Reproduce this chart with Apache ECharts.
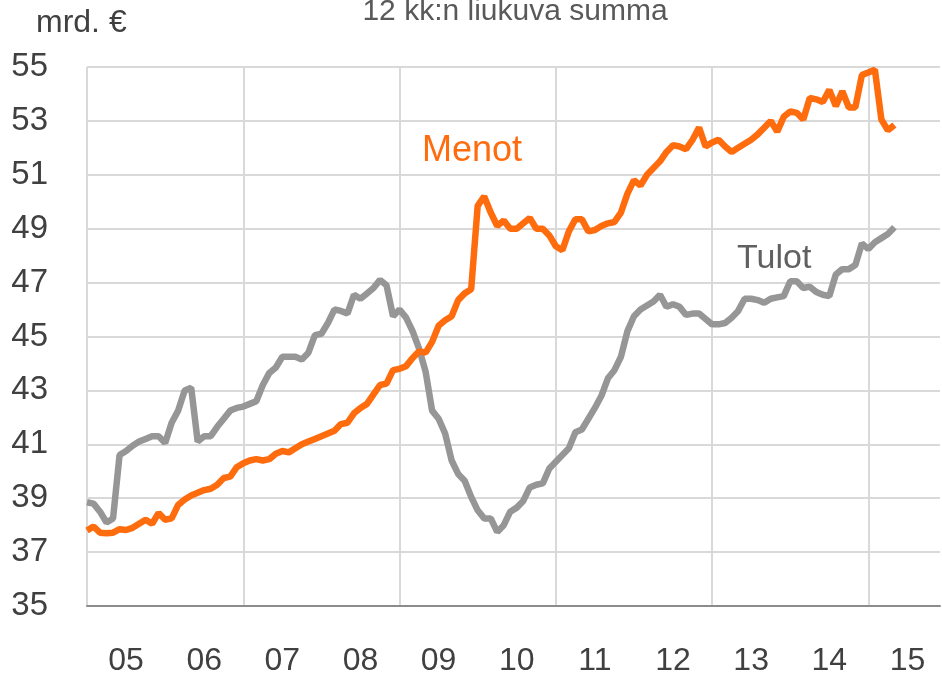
<!DOCTYPE html>
<html>
<head>
<meta charset="utf-8">
<script src="https://cdn.jsdelivr.net/npm/echarts@6/dist/echarts.min.js"></script>
<style>
  html, body { margin: 0; padding: 0; background: #fff; }
  #chart { width: 942px; height: 677px; }
</style>
</head>
<body>
<div id="chart"></div>
<script>
// vuodet, kuukausittain 2005-01 ... 2015-12
const years = ['05', '06', '07', '08', '09', '10', '11', '12', '13', '14', '15']

// Menot, 12 kk liukuva summa (mrd. €), 2005-01 ... 2015-05
const menot = [
  37.8, 37.95, 37.72, 37.7, 37.72, 37.85, 37.82, 37.9, 38.05, 38.2, 38.05, 38.45,
  38.2, 38.25, 38.75, 38.95, 39.1, 39.2, 39.3, 39.35, 39.5, 39.75, 39.8, 40.15,
  40.3, 40.4, 40.45, 40.4, 40.45, 40.65, 40.75, 40.7, 40.85, 41.0, 41.1, 41.2,
  41.3, 41.4, 41.5, 41.75, 41.8, 42.15, 42.35, 42.5, 42.85, 43.2, 43.25, 43.75,
  43.8, 43.9, 44.2, 44.45, 44.4, 44.8, 45.4, 45.6, 45.75, 46.35, 46.6, 46.75,
  49.85, 50.2, 49.6, 49.1, 49.3, 49.0, 49.0, 49.2, 49.4, 49.0, 49.0, 48.75,
  48.35, 48.2, 48.9, 49.35, 49.35, 48.9, 48.95, 49.1, 49.2, 49.25, 49.6, 50.3,
  50.8, 50.6, 51.0, 51.25, 51.5, 51.85, 52.1, 52.05, 51.95, 52.3, 52.75, 52.05,
  52.2, 52.3, 52.05, 51.85, 52.0, 52.15, 52.3, 52.5, 52.75, 53.0, 52.6, 53.15,
  53.35, 53.3, 53.05, 53.85, 53.8, 53.7, 54.15, 53.55, 54.1, 53.5, 53.5, 54.7,
  54.8, 54.9, 53.05, 52.65, 52.85
]

// Tulot
const tulot = [
  38.85, 38.8, 38.5, 38.1, 38.25, 40.6, 40.75, 40.95, 41.1, 41.2, 41.3, 41.3,
  41.05, 41.8, 42.25, 43.0, 43.1, 41.1, 41.3, 41.3, 41.65, 41.95, 42.25, 42.35,
  42.4, 42.5, 42.6, 43.2, 43.65, 43.85, 44.25, 44.25, 44.25, 44.15, 44.4, 45.05,
  45.1, 45.5, 46.0, 45.95, 45.85, 46.55, 46.4, 46.6, 46.8, 47.1, 46.9, 45.75,
  46.0, 45.7, 45.2, 44.55, 43.7, 42.25, 41.95, 41.4, 40.4, 39.9, 39.65, 39.05,
  38.55, 38.25, 38.25, 37.75, 38.0, 38.5, 38.65, 38.9, 39.4, 39.5, 39.55, 40.1,
  40.35, 40.6, 40.85, 41.45, 41.55, 41.95, 42.35, 42.8, 43.45, 43.75, 44.25, 45.2,
  45.75, 46.0, 46.15, 46.3, 46.55, 46.1, 46.2, 46.1, 45.8, 45.85, 45.85, 45.65,
  45.45, 45.45, 45.5, 45.7, 45.95, 46.4, 46.4, 46.35, 46.25, 46.4, 46.45, 46.5,
  47.05, 47.05, 46.8, 46.85, 46.65, 46.55, 46.5, 47.3, 47.5, 47.5, 47.65, 48.45,
  48.25, 48.5, 48.65, 48.8, 49.05
]

const months = []
years.forEach(y => {
  for (let m = 1; m <= 12; m++) months.push(y + '-' + m)
})

const font = 'Liberation Sans, Arial, sans-serif'
let myChart = echarts.init(document.getElementById('chart'))

let option = {
  animation: false,
  title: {
    text: '12 kk:n liukuva summa',
    left: 510,
    top: -8,
    textAlign: 'center',
    textStyle: { fontFamily: font, fontSize: 30, fontWeight: 'normal', color: '#595959' }
  },
  graphic: [
    { type: 'text', left: 36, top: 7, style: { text: 'mrd. €', font: '32px ' + font, fill: '#404040' } },
    { type: 'text', left: 422, top: 133, style: { text: 'Menot', font: '36px ' + font, fill: '#FF6C0E' } },
    { type: 'text', left: 737, top: 242, style: { text: 'Tulot', font: '34px ' + font, fill: '#606060' } }
  ],
  grid: {
    left: 87,
    right: 2,
    top: 67,
    bottom: 67,
    containLabel: false
  },
  xAxis: {
    type: 'category',
    boundaryGap: false,
    data: months,
    axisLine: { show: true, lineStyle: { color: '#8c8c8c', width: 2 } },
    axisTick: { show: false },
    axisLabel: {
      interval: function (index) { return index % 12 === 6 },
      formatter: function (value) { return value.split('-')[0] },
      margin: 39,
      fontFamily: font,
      fontSize: 32,
      color: '#404040'
    },
    splitLine: {
      show: true,
      interval: function (index) { return index % 24 === 0 },
      lineStyle: { color: '#d9d9d9', width: 2 }
    }
  },
  yAxis: {
    type: 'value',
    min: 35,
    max: 55,
    interval: 2,
    axisLine: { show: false },
    axisTick: { show: false },
    axisLabel: {
      margin: 39,
      fontFamily: font,
      fontSize: 33,
      color: '#404040'
    },
    splitLine: { lineStyle: { color: '#d9d9d9', width: 2 } }
  },
  series: [
    {
      name: 'Tulot',
      type: 'line',
      data: tulot,
      showSymbol: false,
      lineStyle: { color: '#969696', width: 6.5 },
      z: 2
    },
    {
      name: 'Menot',
      type: 'line',
      data: menot,
      showSymbol: false,
      lineStyle: { color: '#FF6C0E', width: 6.5 },
      z: 3
    }
  ]
}
myChart.setOption(option)
</script>
</body>
</html>
